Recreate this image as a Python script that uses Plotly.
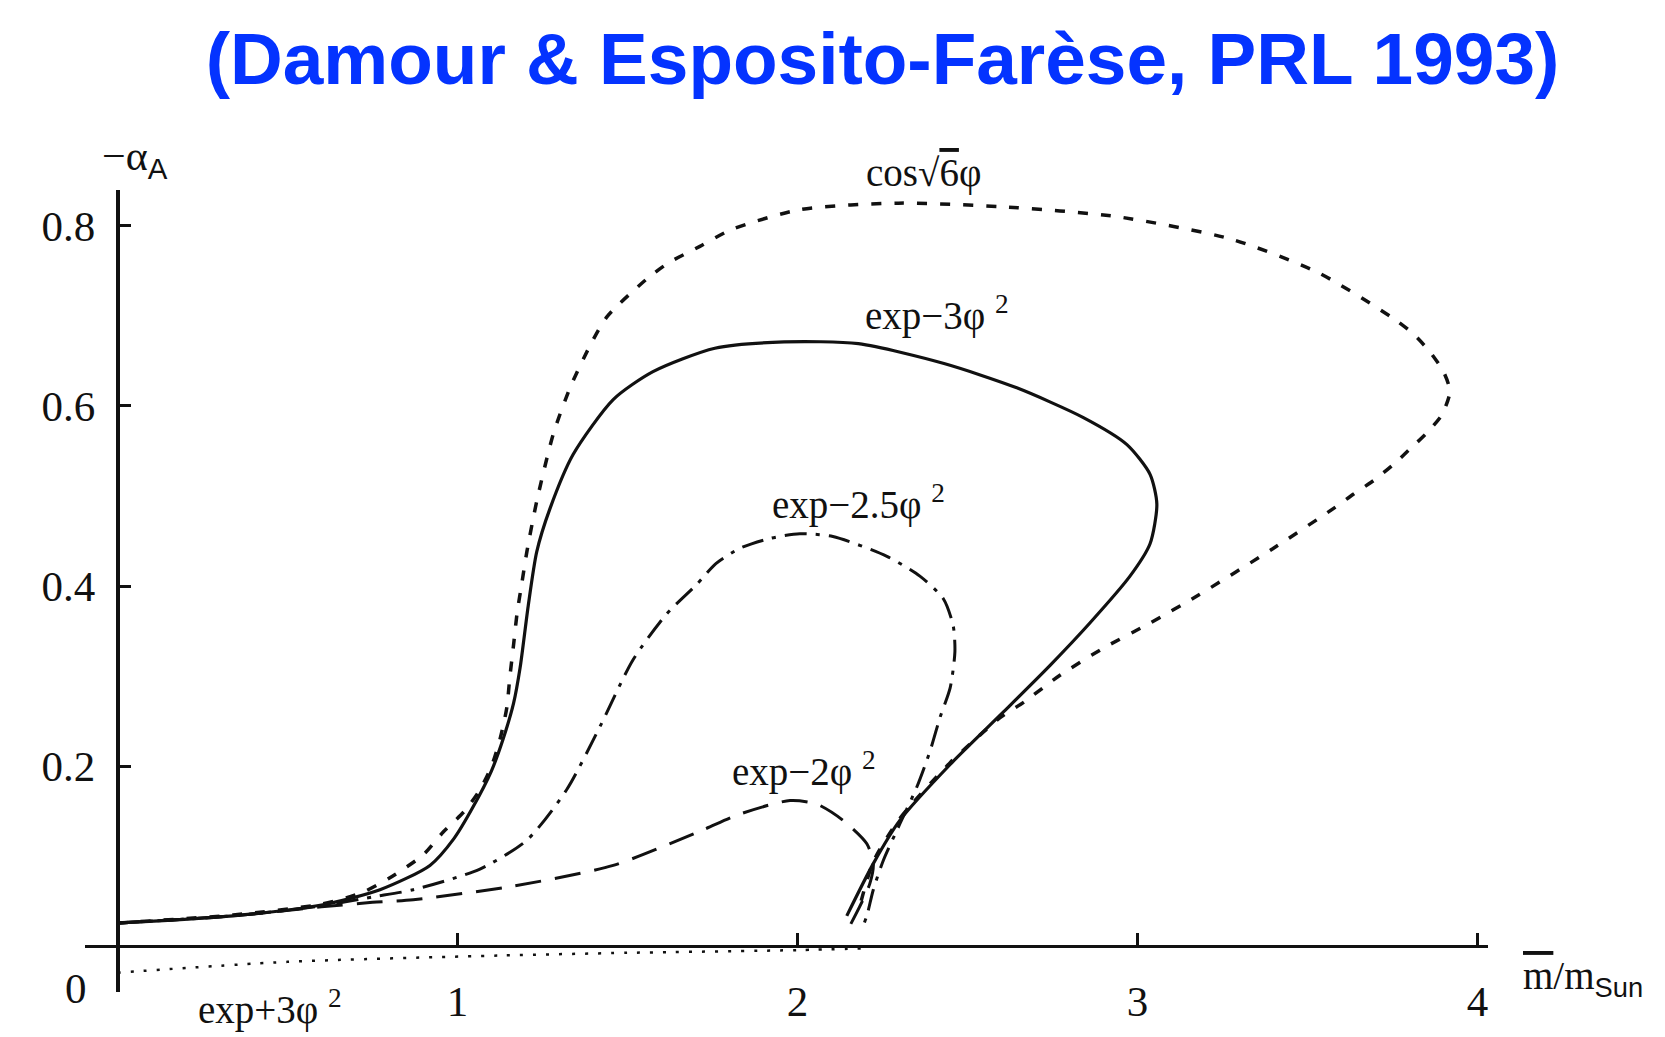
import plotly.graph_objects as go

# ---- data (x = m/m_sun, y = -alpha_A) ----
cos6_x = [0.0, 0.34, 0.60, 0.72, 0.80, 0.90, 0.958, 1.02, 1.066, 1.10, 1.125, 1.145, 1.154, 1.165,
          1.175, 1.19, 1.204, 1.233, 1.282, 1.331, 1.390, 1.44, 1.557, 1.622, 1.713, 1.808, 2.010,
          2.297, 2.601, 2.940, 3.276, 3.531, 3.753, 3.811, 3.860, 3.900, 3.919, 3.895, 3.851, 3.801,
          3.753, 3.694, 3.635, 3.576, 3.40, 3.175, 3.037, 2.899, 2.772, 2.665, 2.596, 2.547, 2.449,
          2.301, 2.223, 2.18]
cos6_y = [0.026, 0.035, 0.047, 0.060, 0.076, 0.102, 0.127, 0.150, 0.174, 0.200, 0.230, 0.265, 0.299,
          0.335, 0.369, 0.405, 0.438, 0.494, 0.569, 0.620, 0.667, 0.699, 0.741, 0.759, 0.777, 0.796,
          0.818, 0.825, 0.821, 0.810, 0.785, 0.748, 0.697, 0.680, 0.660, 0.638, 0.616, 0.590, 0.570,
          0.552, 0.535, 0.517, 0.502, 0.486, 0.442, 0.389, 0.359, 0.331, 0.301, 0.271, 0.254, 0.238,
          0.204, 0.142, 0.094, 0.040]

exp3_x = [0.0, 0.34, 0.60, 0.772, 0.919, 0.99, 1.046, 1.10, 1.134, 1.165, 1.184, 1.208, 1.233, 1.272,
          1.340, 1.458, 1.575, 1.757, 1.961, 2.179, 2.431, 2.645, 2.841, 2.969, 3.037, 3.057, 3.037,
          2.978, 2.860, 2.743, 2.605, 2.449, 2.301, 2.223, 2.145]
exp3_y = [0.026, 0.034, 0.046, 0.063, 0.090, 0.120, 0.155, 0.195, 0.230, 0.270, 0.309, 0.378, 0.438,
          0.486, 0.546, 0.607, 0.638, 0.664, 0.671, 0.669, 0.647, 0.620, 0.587, 0.557, 0.524, 0.491,
          0.447, 0.411, 0.359, 0.312, 0.260, 0.202, 0.140, 0.092, 0.034]

exp25_x = [0.0, 0.34, 0.60, 0.75, 0.870, 1.066, 1.204, 1.321, 1.419, 1.516, 1.615, 1.704, 1.76, 1.831,
           1.92, 2.007, 2.104, 2.263, 2.360, 2.429, 2.458, 2.463, 2.449, 2.419, 2.390, 2.351, 2.301,
           2.253, 2.223, 2.204, 2.19]
exp25_y = [0.026, 0.034, 0.045, 0.055, 0.063, 0.086, 0.118, 0.174, 0.244, 0.318, 0.369, 0.402, 0.425,
           0.442, 0.453, 0.458, 0.455, 0.433, 0.411, 0.386, 0.356, 0.327, 0.287, 0.254, 0.217, 0.177,
           0.136, 0.096, 0.063, 0.034, 0.020]

exp2_x = [0.0, 0.34, 0.60, 0.75, 0.870, 1.164, 1.458, 1.713, 1.831, 1.978, 2.057, 2.134, 2.204, 2.223,
          2.213, 2.184, 2.154]
exp2_y = [0.026, 0.034, 0.044, 0.049, 0.052, 0.067, 0.090, 0.128, 0.147, 0.162, 0.158, 0.140, 0.114,
          0.092, 0.070, 0.045, 0.023]

expp3_x = [0.0, 0.5, 1.125, 1.5, 2.0, 2.2]
expp3_y = [-0.029, -0.017, -0.010, -0.007, -0.004, -0.002]

x_ticks = [1, 2, 3, 4]
y_ticks = [0.2, 0.4, 0.6, 0.8]
y_tick_text = ["0.2", "0.4", "0.6", "0.8"]

X_RANGE = [-0.0956, 4.031]
Y_RANGE = [-0.0505, 0.8396]

SERIF = "Liberation Serif, Times New Roman, serif"
INK = "#111111"

fig = go.Figure()


def add_curve(x, y, dash, width, name):
    fig.add_trace(go.Scatter(
        x=x, y=y, mode="lines", name=name,
        line=dict(color=INK, width=width, dash=dash, shape="spline", smoothing=0.7),
        hoverinfo="skip", showlegend=False))


add_curve(expp3_x, expp3_y, "3px,10px", 2.5, "exp+3phi2")
add_curve(exp2_x, exp2_y, "26px,14px", 3, "exp-2phi2")
add_curve(exp25_x, exp25_y, "22px,9px,4px,9px", 3, "exp-2.5phi2")
add_curve(cos6_x, cos6_y, "10px,13px", 3.5, "cos")
add_curve(exp3_x, exp3_y, "solid", 3.2, "exp-3phi2")


def px(x):
    return (x - X_RANGE[0]) / (X_RANGE[1] - X_RANGE[0])


def py(y):
    return (y - Y_RANGE[0]) / (Y_RANGE[1] - Y_RANGE[0])


fig.update_layout(
    width=1665, height=1037,
    margin=dict(l=85, r=177, t=190, b=37),
    paper_bgcolor="white", plot_bgcolor="white",
    title=dict(
        text="<b>(Damour &amp; Esposito-Farèse, PRL 1993)</b>",
        font=dict(family="Liberation Sans, Arial, sans-serif", size=73, color="#0433ff"),
        x=882.5 / 1665, xanchor="center", xref="container",
        y=1 - 58 / 1037, yanchor="middle", yref="container"),
    xaxis=dict(
        range=X_RANGE, showgrid=False, zeroline=False,
        anchor="free", position=py(0),
        showline=True, linecolor=INK, linewidth=3,
        ticks="inside", ticklen=12, tickwidth=3, tickcolor=INK,
        tickvals=x_ticks, ticktext=[str(v) for v in x_ticks],
        tickfont=dict(family=SERIF, size=43, color=INK),
        ticklabelstandoff=16),
    yaxis=dict(
        range=Y_RANGE, showgrid=False, zeroline=False,
        anchor="free", position=px(0),
        showline=True, linecolor=INK, linewidth=3.5,
        ticks="inside", ticklen=12, tickwidth=3, tickcolor=INK,
        tickvals=y_ticks, ticktext=y_tick_text,
        tickfont=dict(family=SERIF, size=43, color=INK),
        ticklabelstandoff=12),
)

ann_font = dict(family=SERIF, size=39, color=INK)
labels = [
    ("cos√<span style=\"text-decoration:overline\">6</span>φ", 2.37, 0.858),
    ("exp−3φ <sup>2</sup>", 2.41, 0.702),
    ("exp−2.5φ <sup>2</sup>", 2.18, 0.493),
    ("exp−2φ <sup>2</sup>", 2.02, 0.196),
    ("exp+3φ <sup>2</sup>", 0.45, -0.068),
]
for text, x, y in labels:
    fig.add_annotation(text=text, x=px(x), y=py(y), xref="paper", yref="paper", showarrow=False,
                       font=ann_font, xanchor="center", yanchor="middle")

# tick label "0" at the origin
fig.add_annotation(text="0", x=px(-0.122), y=py(-0.047), xref="paper", yref="paper", showarrow=False,
                   font=dict(family=SERIF, size=43, color=INK), xanchor="center", yanchor="middle")

# axis titles
fig.add_annotation(text="−α<sub><span style=\"font-family:Liberation Sans\">A</span></sub>",
                   x=px(0.05), y=py(0.874), xref="paper", yref="paper", showarrow=False,
                   font=dict(family=SERIF, size=42, color=INK), xanchor="center", yanchor="middle")
fig.add_annotation(text="<span style=\"text-decoration:overline\">m</span>/m<sub><span style=\"font-family:Liberation Sans\">Sun</span></sub>",
                   x=px(4.128), y=py(-0.035), xref="paper", yref="paper", showarrow=False,
                   font=dict(family=SERIF, size=39, color=INK), xanchor="left", yanchor="middle")

fig.write_html("out.html")
